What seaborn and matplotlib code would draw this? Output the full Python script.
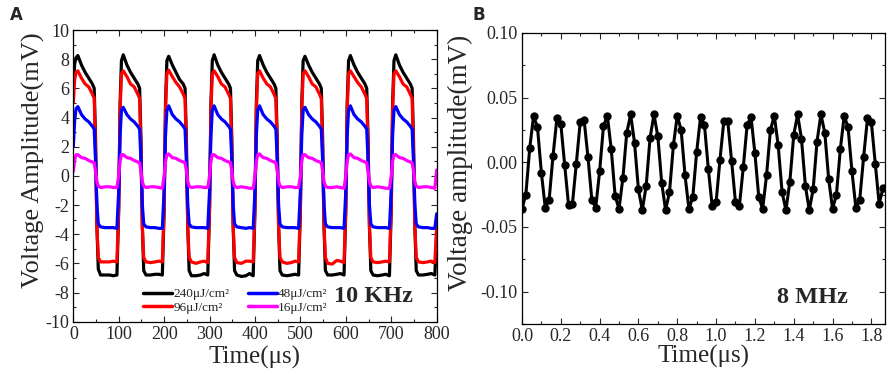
import numpy as np
import pandas as pd
import matplotlib
matplotlib.use("Agg")
import matplotlib.pyplot as plt
import seaborn as sns
from matplotlib.ticker import MultipleLocator

# --- Panel A: 10 KHz, four fluences (mV) ---
cycle_offsets = [0, 3, 6, 10, 18, 26, 34, 42, 46, 49, 52, 55, 60, 70, 80, 88, 96]
n_cycles = 8
time_a = [100 * k + o for k in range(n_cycles) for o in cycle_offsets] + [800]

black_mV = [
    6.0, 7.7, 8.1, 8.25, 7.6, 7.1, 6.7, 6.3, 6.0, 2.5, -3.5, -6.4, -6.8, -6.8, -6.8, -6.85, -6.8,
    -2.3, 5.0, 7.9, 8.3, 7.6, 7.1, 6.7, 6.3, 6.0, 2.5, -3.5, -6.5, -6.8, -6.8, -6.75, -6.75, -6.8,
    -2.3, 5.0, 7.9, 8.2, 7.6, 7.1, 6.6, 6.3, 6.0, 2.5, -3.5, -6.5, -6.85, -6.85, -6.8, -6.7, -6.8,
    -2.3, 5.0, 7.9, 8.3, 7.6, 7.1, 6.7, 6.3, 6.0, 2.5, -3.5, -6.5, -6.8, -6.9, -6.85, -6.7, -6.85,
    -2.3, 5.0, 7.9, 8.25, 7.6, 7.1, 6.7, 6.3, 6.0, 2.5, -3.5, -6.5, -6.8, -6.85, -6.8, -6.75, -6.8,
    -2.3, 5.0, 7.9, 8.2, 7.6, 7.1, 6.7, 6.3, 6.0, 2.5, -3.5, -6.5, -6.8, -6.8, -6.75, -6.7, -6.8,
    -2.3, 5.0, 7.9, 8.25, 7.6, 7.1, 6.7, 6.3, 6.0, 2.5, -3.5, -6.5, -6.8, -6.85, -6.8, -6.75, -6.85,
    -2.3, 5.0, 7.9, 8.3, 7.6, 7.1, 6.7, 6.3, 6.0, 2.5, -3.5, -6.5, -6.8, -6.8, -6.75, -6.7, -6.8,
    -4.0,
]
red_mV = [
    5.0, 6.6, 7.1, 7.2, 6.7, 6.3, 6.1, 5.6, 5.3, 1.5, -3.5, -5.6, -5.9, -5.9, -5.9, -5.85, -5.9,
    -2.0, 4.5, 7.0, 7.2, 6.8, 6.3, 6.1, 5.6, 5.3, 1.5, -3.5, -5.6, -5.9, -5.95, -5.9, -5.85, -5.9,
    -2.0, 4.5, 7.0, 7.25, 6.8, 6.4, 6.1, 5.6, 5.3, 1.5, -3.5, -5.6, -5.9, -6.0, -5.9, -5.85, -5.95,
    -2.0, 4.5, 7.0, 7.2, 6.8, 6.3, 6.1, 5.6, 5.3, 1.5, -3.5, -5.6, -5.95, -6.0, -5.85, -5.85, -5.9,
    -2.0, 4.5, 7.0, 7.2, 6.7, 6.3, 6.1, 5.6, 5.3, 1.5, -3.5, -5.6, -5.9, -6.0, -5.95, -5.85, -5.9,
    -2.0, 4.5, 7.0, 7.2, 6.8, 6.3, 6.1, 5.6, 5.3, 1.5, -3.5, -5.6, -6.0, -6.05, -5.8, -5.85, -5.95,
    -2.0, 4.5, 7.0, 7.2, 6.8, 6.4, 6.1, 5.6, 5.3, 1.5, -3.5, -5.6, -5.9, -5.95, -5.9, -5.85, -5.9,
    -2.0, 4.5, 7.0, 7.2, 6.8, 6.3, 6.1, 5.6, 5.3, 1.5, -3.5, -5.6, -5.9, -5.95, -5.9, -5.85, -5.95,
    -3.5,
]
blue_mV = [
    2.0, 3.8, 4.6, 4.75, 4.2, 3.9, 3.7, 3.4, 3.2, 1.0, -2.0, -3.3, -3.5, -3.55, -3.55, -3.55, -3.6,
    -1.0, 2.8, 4.5, 4.7, 4.2, 3.9, 3.7, 3.4, 3.2, 1.0, -2.0, -3.3, -3.5, -3.55, -3.55, -3.6, -3.6,
    -1.0, 2.8, 4.5, 4.8, 4.2, 3.9, 3.7, 3.4, 3.2, 1.0, -2.0, -3.3, -3.5, -3.55, -3.55, -3.55, -3.6,
    -1.0, 2.8, 4.5, 4.8, 4.2, 3.9, 3.7, 3.4, 3.2, 1.0, -2.0, -3.3, -3.5, -3.55, -3.6, -3.55, -3.6,
    -1.0, 2.8, 4.5, 4.8, 4.2, 3.9, 3.7, 3.4, 3.2, 1.0, -2.0, -3.3, -3.5, -3.55, -3.55, -3.55, -3.6,
    -1.0, 2.8, 4.5, 4.7, 4.2, 3.9, 3.7, 3.4, 3.2, 1.0, -2.0, -3.3, -3.5, -3.55, -3.55, -3.55, -3.6,
    -1.0, 2.8, 4.5, 4.8, 4.2, 3.9, 3.7, 3.4, 3.2, 1.0, -2.0, -3.3, -3.5, -3.55, -3.55, -3.55, -3.6,
    -1.0, 2.8, 4.5, 4.75, 4.2, 3.9, 3.7, 3.4, 3.2, 1.0, -2.0, -3.3, -3.5, -3.55, -3.55, -3.6, -3.6,
    -2.6,
]
magenta_mV = [
    0.3, 1.1, 1.45, 1.45, 1.25, 1.2, 1.05, 0.95, 0.9, 0.3, -0.4, -0.7, -0.8, -0.75, -0.75, -0.8, -0.8,
    0.0, 1.0, 1.45, 1.45, 1.25, 1.2, 1.05, 0.95, 0.9, 0.3, -0.4, -0.7, -0.8, -0.75, -0.75, -0.8, -0.85,
    0.0, 1.0, 1.45, 1.5, 1.25, 1.2, 1.05, 0.95, 0.9, 0.3, -0.4, -0.7, -0.8, -0.75, -0.75, -0.8, -0.8,
    0.0, 1.0, 1.45, 1.45, 1.25, 1.2, 1.05, 0.95, 0.9, 0.3, -0.4, -0.7, -0.8, -0.75, -0.8, -0.85, -0.85,
    0.0, 1.0, 1.45, 1.5, 1.25, 1.2, 1.05, 0.95, 0.9, 0.3, -0.4, -0.7, -0.8, -0.75, -0.75, -0.8, -0.8,
    0.0, 1.0, 1.45, 1.45, 1.25, 1.2, 1.05, 0.95, 0.9, 0.3, -0.4, -0.7, -0.8, -0.8, -0.75, -0.8, -0.85,
    0.0, 1.0, 1.45, 1.5, 1.25, 1.2, 1.05, 0.95, 0.9, 0.3, -0.4, -0.7, -0.8, -0.75, -0.8, -0.85, -0.85,
    0.0, 1.0, 1.45, 1.45, 1.25, 1.2, 1.05, 0.95, 0.9, 0.3, -0.4, -0.7, -0.8, -0.75, -0.75, -0.8, -0.85,
    0.4,
]
fluence_labels = ["240μJ/cm²", "96μJ/cm²", "48μJ/cm²", "16μJ/cm²"]
fluence_colors = ["#000000", "#ff0000", "#0000ff", "#ff00ff"]

# --- Panel B: 8 MHz, sampled every 0.02 us (mV) ---
sample_step_us = 0.02
amp_8mhz = [
    -0.036, -0.025, 0.011, 0.036, 0.027, -0.008, -0.035, -0.029, 0.005, 0.034,
    0.030, -0.002, -0.033, -0.032, -0.001, 0.031, 0.033, 0.004, -0.029, -0.035,
    -0.007, 0.028, 0.036, 0.010, -0.026, -0.036, -0.012, 0.023, 0.037, 0.015,
    -0.021, -0.037, -0.018, 0.019, 0.037, 0.020, -0.016, -0.037, -0.023, 0.013,
    0.036, 0.025, -0.010, -0.036, -0.027, 0.008, 0.035, 0.029, -0.005, -0.034,
    -0.031, 0.002, 0.032, 0.032, 0.001, -0.031, -0.034, -0.004, 0.029, 0.035,
    0.007, -0.027, -0.036, -0.010, 0.025, 0.036, 0.013, -0.023, -0.037, -0.015,
    0.021, 0.037, 0.018, -0.018, -0.037, -0.021, 0.016, 0.037, 0.023, -0.013,
    -0.036, -0.025, 0.010, 0.036, 0.027, -0.007, -0.035, -0.029, 0.004, 0.034,
    0.031, -0.001, -0.032, -0.020,
]
time_b = np.round(np.arange(len(amp_8mhz)) * sample_step_us, 2)

sns.set_theme(style="ticks")
plt.rcParams['font.family'] = ['Liberation Serif', 'DejaVu Serif']
plt.rcParams['axes.unicode_minus'] = False

df_a = pd.DataFrame({
    't': time_a * 4,
    'v': black_mV + red_mV + blue_mV + magenta_mV,
    'fluence': sum([[lab] * len(time_a) for lab in fluence_labels], []),
})

fig = plt.figure(figsize=(8.93, 3.78), dpi=100)
ax_a = fig.add_axes([0.0821, 0.149, 0.4069, 0.7716])
ax_b = fig.add_axes([0.5845, 0.143, 0.4065, 0.7697])

sns.lineplot(data=df_a, x='t', y='v', hue='fluence', hue_order=fluence_labels,
             palette=fluence_colors, estimator=None, sort=False, lw=2.3, ax=ax_a)
ax_a.set_xlim(0, 800)
ax_a.set_ylim(-10, 10)
ax_a.xaxis.set_major_locator(MultipleLocator(100))
ax_a.xaxis.set_minor_locator(MultipleLocator(50))
ax_a.yaxis.set_major_locator(MultipleLocator(2))
ax_a.yaxis.set_minor_locator(MultipleLocator(1))
ax_a.set_xlabel('Time(μs)', fontsize=18, labelpad=2)
ax_a.set_ylabel('Voltage Amplitude(mV)', fontsize=19)
ax_a.yaxis.set_label_coords(-0.078, 0.554)
leg = ax_a.legend(loc='lower left', bbox_to_anchor=(0.17, 0.0), ncol=2, frameon=False,
                  fontsize=9.5, handlelength=2.2, handletextpad=0.1, columnspacing=1.4,
                  labelspacing=0.1, borderaxespad=0.2)
for line in leg.get_lines():
    line.set_linewidth(2.5)
ax_a.text(0.825, 0.085, '10 KHz', transform=ax_a.transAxes, fontsize=17.5,
          fontweight='bold', ha='center', va='center')

sns.lineplot(x=time_b, y=amp_8mhz, color='black', lw=2.2, marker='o', markersize=6,
             markeredgewidth=0, estimator=None, sort=False, ax=ax_b)
ax_b.set_xlim(0, 1.87)
ax_b.set_ylim(-0.125, 0.10)
ax_b.xaxis.set_major_locator(MultipleLocator(0.2))
ax_b.xaxis.set_minor_locator(MultipleLocator(0.1))
ax_b.yaxis.set_major_locator(MultipleLocator(0.05))
ax_b.yaxis.set_minor_locator(MultipleLocator(0.025))
ax_b.xaxis.set_major_formatter(plt.FuncFormatter(lambda v, p: f'{v:.1f}'))
ax_b.yaxis.set_major_formatter(plt.FuncFormatter(lambda v, p: f'{v:.2f}'))
ax_b.set_xlabel('Time(μs)', fontsize=18, labelpad=0)
ax_b.set_ylabel('Voltage amplitude(mV)', fontsize=19.5)
ax_b.yaxis.set_label_coords(-0.135, 0.553)
ax_b.text(0.80, 0.09, '8 MHz', transform=ax_b.transAxes, fontsize=17.5,
          fontweight='bold', ha='center', va='center')

for ax in (ax_a, ax_b):
    ax.tick_params(which='both', direction='in', top=True, right=True, width=0.8)
    ax.tick_params(which='major', length=4, labelsize=13, pad=3)
    ax.tick_params(which='minor', length=2)
    for s in ax.spines.values():
        s.set_linewidth(0.9)
        s.set_color('black')

fig.text(0.011, 0.96, 'A', fontsize=12, fontweight='bold', family='DejaVu Sans', va='center')
fig.text(0.529, 0.96, 'B', fontsize=12, fontweight='bold', family='DejaVu Sans', va='center')

fig.savefig('out.png', dpi=100)
